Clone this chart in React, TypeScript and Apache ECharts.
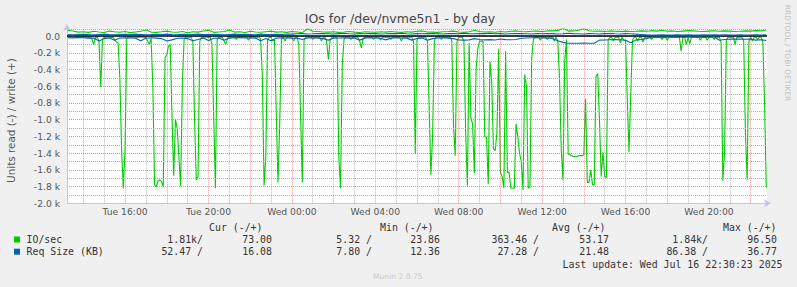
import React, { useEffect, useRef } from 'react';
import * as echarts from 'echarts';

// ---- time base (hours since Tue 00:00) ----
const START_HOUR = 13.25;
const FAST_STEP_H = 1 / 12; // 5 minutes
const SLOW_STEP_H = 0.25; // 15 minutes
const X_MIN = 13.216;
const X_MAX = 46.784;

// IO/sec read (negative), 5-minute samples
const ioReadValues = [
  -14, -15, -13, -14, -16, -12, -13, -15, -14, -12,
  -13, -11, -15, -14, -40, -100, -18, -12, -60, -610,
  -40, -14, -12, -10, -13, -15, -12, -45, -70, -80,
  -500, -1350, -1820, -1360, -30, -12, -10, -14, -11, -13,
  -15, -12, -10, -13, -16, -14, -60, -100, -30, -620,
  -1780, -1800, -1730, -1720, -1740, -1800, -260, -220, -120, -100,
  -950, -1670, -1000, -1100, -1450, -1800, -550, -30, -14, -12,
  -11, -15, -60, -1000, -1720, -1680, -60, -14, -12, -10,
  -13, -15, -12, -100, -950, -1820, -40, -13, -11, -14,
  -60, -100, -20, -12, -10, -13, -15, -40, -12, -11,
  -14, -12, -10, -13, -50, -15, -12, -11, -14, -13,
  -12, -30, -470, -1790, -1450, -40, -14, -12, -60, -40,
  -900, -1750, -1050, -40, -13, -60, -15, -12, -11, -14,
  -60, -13, -12, -100, -950, -1750, -50, -14, -12, -10,
  -13, -40, -15, -12, -11, -14, -60, -13, -12, -60,
  -280, -50, -12, -10, -14, -13, -1450, -1820, -350, -40,
  -12, -11, -14, -40, -13, -12, -10, -15, -60, -140,
  -30, -12, -14, -11, -13, -15, -40, -12, -10, -14,
  -50, -13, -11, -15, -12, -14, -40, -12, -10, -13,
  -15, -12, -60, -14, -11, -13, -12, -10, -14, -60,
  -1410, -50, -13, -12, -15, -11, -14, -60, -860, -1660,
  -1170, -50, -12, -14, -11, -40, -13, -12, -15, -10,
  -13, -50, -1060, -1430, -60, -14, -12, -11, -60, -1150,
  -1790, -80, -980, -1050, -1640, -400, -150, -60, -60, -60,
  -1200, -1210, -1770, -300, -550, -1350, -1370, -1150, -150, -1630,
  -1680, -1820, -180, -1630, -1630, -1820, -1820, -1820, -1050, -1200,
  -1400, -1500, -1840, -460, -600, -1820, -1800, -260, -40, -13,
  -12, -14, -50, -11, -13, -15, -40, -12, -14, -10,
  -60, -13, -60, -500, -1350, -1720, -300, -40, -1410, -1420,
  -1430, -1440, -1440, -1440, -1430, -1430, -1430, -1420, -750, -1750,
  -1750, -1600, -1780, -1780, -480, -450, -1000, -1680, -1390, -1680,
  -1690, -50, -14, -12, -60, -13, -11, -15, -80, -12,
  -50, -50, -750, -1390, -700, -50, -14, -12, -60, -13,
  -11, -70, -15, -12, -14, -10, -40, -13, -12, -11,
  -14, -12, -40, -13, -15, -50, -12, -11, -14, -13,
  -12, -10, -14, -180, -13, -12, -100, -15, -90, -12,
  -11, -14, -13, -12, -50, -15, -12, -11, -50, -14,
  -13, -12, -40, -11, -14, -13, -80, -1730, -1390, -50,
  -12, -14, -11, -13, -100, -15, -12, -10, -14, -60,
  -1170, -1720, -60, -13, -60, -12, -11, -40, -14, -13,
  -60, -800, -1810,
];

// IO/sec write (positive), 15-minute samples
const ioWriteValues = [
  70, 62, 48, 52, 45, 58, 50, 44, 60, 53,
  47, 55, 42, 50, 58, 72, 48, 45, 52, 60,
  50, 46, 55, 40, 52, 48, 62, 70, 45, 50,
  55, 72, 48, 52, 44, 58, 50, 46, 53, 60,
  48, 52, 45, 55, 50, 42, 88, 58, 55, 50,
  48, 52, 45, 50, 56, 48, 44, 52, 50, 47,
  53, 48, 55, 50, 45, 52, 48, 58, 62, 50,
  48, 45, 52, 55, 60, 50, 47, 53, 68, 55,
  50, 52, 46, 55, 50, 58, 62, 55, 52, 58,
  60, 55, 62, 62, 65, 96, 60, 62, 70, 90,
  65, 58, 60, 55, 62, 58, 56, 60, 55, 58,
  62, 58, 65, 60, 70, 58, 62, 55, 60, 65,
  62, 58, 55, 60, 64, 58, 62, 60, 55, 58,
  62, 60, 65, 62, 73,
];

// Req size (KB) read (negative), 15-minute samples
const reqReadValues = [
  -20, -22, -18, -20, -24, -22, -58, -30, -22, -50,
  -24, -20, -22, -26, -55, -25, -20, -24, -30, -58,
  -45, -25, -22, -30, -55, -40, -22, -52, -25, -22,
  -50, -24, -20, -18, -22, -20, -24, -55, -30, -55,
  -24, -20, -22, -26, -24, -40, -22, -20, -24, -30,
  -48, -26, -22, -20, -24, -22, -48, -24, -20, -22,
  -26, -45, -24, -20, -22, -24, -48, -28, -24, -50,
  -30, -22, -20, -24, -30, -46, -48, -45, -30, -40,
  -45, -42, -46, -35, -42, -44, -40, -26, -22, -20,
  -18, -22, -20, -30, -55, -75, -86, -85, -86, -84,
  -86, -85, -48, -46, -44, -42, -44, -50, -80, -45,
  -40, -30, -12, -10, -14, -12, -10, -12, -14, -10,
  -12, -10, -14, -12, -8, -50, -40, -36, -34, -36,
  -38, -36, -48, -44, -52,
];

// Req size (KB) write (positive), 15-minute samples
const reqWriteValues = [
  18, 16, 20, 22, 18, 15, 20, 24, 18, 16,
  20, 22, 18, 24, 20, 16, 18, 22, 20, 24,
  18, 16, 22, 20, 18, 24, 20, 18, 22, 20,
  16, 20, 24, 18, 22, 20, 16, 24, 20, 18,
  22, 20, 26, 24, 28, 30, 26, 28, 32, 30,
  28, 26, 30, 34, 28, 26, 30, 28, 32, 30,
  26, 28, 32, 30, 34, 28, 26, 30, 28, 32,
  30, 28, 26, 30, 32, 28, 36, 30, 28, 32,
  30, 34, 28, 30, 26, 28, 32, 30, 28, 26,
  30, 28, 32, 30, 26, 28, 34, 30, 28, 26,
  30, 28, 26, 30, 32, 28, 26, 30, 28, 24,
  20, 16, 14, 13, 15, 14, 13, 16, 14, 15,
  13, 14, 16, 13, 15, 14, 16, 13, 14, 15,
  14, 13, 15, 14, 16,
];

// ---- axis ticks ----
const xTickHours = [16, 20, 24, 28, 32, 36, 40, 44];
const xTickLabels = ['Tue 16:00', 'Tue 20:00', 'Wed 00:00', 'Wed 04:00', 'Wed 08:00', 'Wed 12:00', 'Wed 16:00', 'Wed 20:00'];
const yTickValues = [0, -200, -400, -600, -800, -1000, -1200, -1400, -1600, -1800, -2000];
const yTickLabels = ['0.0', '-0.2 k', '-0.4 k', '-0.6 k', '-0.8 k', '-1.0 k', '-1.2 k', '-1.4 k', '-1.6 k', '-1.8 k', '-2.0 k'];

// ---- legend ----
const legendNames = ['IO/sec', 'Req Size (KB)'];
const legendColors = ['#00cc00', '#0066b3'];
const legendHeaders = ['Cur (-/+)', 'Min (-/+)', 'Avg (-/+)', 'Max (-/+)'];
const ioStats = ['1.81k/', '73.00', '5.32 /', '23.86', '363.46 /', '53.17', '1.84k/', '96.50'];
const reqStats = ['52.47 /', '16.08', '7.80 /', '12.36', '27.28 /', '21.48', '86.38 /', '36.77'];
const titleText = 'IOs for /dev/nvme5n1 - by day';
const yAxisTitle = 'Units read (-) / write (+)';
const sideText = 'RRDTOOL / TOBI OETIKER';
const lastUpdate = 'Last update: Wed Jul 16 22:30:23 2025';
const muninText = 'Munin 2.0.75';

const HEADER_X = [209, 380, 552, 723];
const STAT_RIGHT_X = [203, 272, 372, 440, 539, 609, 708, 777];
const MONO = '"DejaVu Sans Mono", monospace';
const SANS = '"DejaVu Sans", sans-serif';

function buildOption() {
  const toPairs = (vals: number[], step: number) => vals.map((v, i) => [START_HOUR + i * step, v]);

  const majorV = 'rgba(225, 95, 95, 0.62)';
  const majorH = 'rgba(225, 95, 95, 0.7)';
  const minorV = 'rgba(140, 140, 140, 0.6)';
  const minorH = 'rgb(175, 175, 175)';
  const gridLines: any[] = [];
  for (let h = 14; h <= 46; h++) {
    gridLines.push({
      xAxis: h,
      lineStyle: { color: h % 2 === 0 ? majorV : minorV, type: [1, 1], width: 1 },
    });
  }
  for (let v = -1900; v <= -100; v += 200) {
    gridLines.push({
      yAxis: v,
      lineStyle: { color: minorH, type: [1, 1], width: 1 },
    });
  }

  const lineBase = {
    type: 'line',
    showSymbol: false,
    symbol: 'none',
    silent: true,
    emphasis: { disabled: true },
  };

  const graphics: any[] = [];
  graphics.push({
    type: 'text', x: 400, y: 18,
    style: { text: titleText, fontSize: 12.5, fontFamily: SANS, fill: '#444', textAlign: 'center', textVerticalAlign: 'middle' },
  });
  graphics.push({
    type: 'text', x: 10.5, y: 120.5, rotation: Math.PI / 2,
    style: { text: yAxisTitle, fontSize: 10.4, fontFamily: SANS, fill: '#555', textAlign: 'center', textVerticalAlign: 'middle' },
  });
  graphics.push({
    type: 'text', x: 787.5, y: 53, rotation: -Math.PI / 2,
    style: { text: sideText, fontSize: 7.5, fontFamily: SANS, fill: '#c0c0c0', textAlign: 'center', textVerticalAlign: 'middle' },
  });
  legendHeaders.forEach((h, k) => {
    graphics.push({
      type: 'text', x: HEADER_X[k], y: 227.5,
      style: { text: h, fontSize: 9.9, fontFamily: MONO, fill: '#333', textAlign: 'left', textVerticalAlign: 'middle' },
    });
  });
  const rows = [ioStats, reqStats];
  rows.forEach((stats, r) => {
    const y = 239.5 + r * 12.2;
    graphics.push({
      type: 'rect', shape: { x: 14, y: y - 3, width: 6, height: 6 },
      style: { fill: legendColors[r] },
    });
    graphics.push({
      type: 'text', x: 26.5, y,
      style: { text: legendNames[r], fontSize: 9.9, fontFamily: MONO, fill: '#333', textAlign: 'left', textVerticalAlign: 'middle' },
    });
    stats.forEach((s, k) => {
      graphics.push({
        type: 'text', x: STAT_RIGHT_X[k], y,
        style: { text: s, fontSize: 9.9, fontFamily: MONO, fill: '#333', textAlign: 'right', textVerticalAlign: 'middle' },
      });
    });
  });
  graphics.push({
    type: 'text', x: 782.5, y: 264,
    style: { text: lastUpdate, fontSize: 9.9, fontFamily: MONO, fill: '#333', textAlign: 'right', textVerticalAlign: 'middle' },
  });
  graphics.push({
    type: 'text', x: 373, y: 276,
    style: { text: muninText, fontSize: 7.6, fontFamily: SANS, fill: '#c8c8c8', textAlign: 'left', textVerticalAlign: 'middle' },
  });

  const axisLineColor = '#c2c6e6';

  return {
    animation: false,
    backgroundColor: '#f0f0f0',
    textStyle: { fontFamily: SANS },
    grid: {
      left: 67, top: 29, width: 700, height: 174.3,
      show: true, backgroundColor: '#ffffff', borderWidth: 0, containLabel: false,
    },
    xAxis: {
      type: 'value', min: X_MIN, max: X_MAX,
      splitLine: { show: false },
      axisTick: { show: false },
      axisLine: {
        show: true, onZero: false,
        lineStyle: { color: axisLineColor, width: 1 },
        symbol: ['none', 'arrow'], symbolSize: [6, 7], symbolOffset: [0, 4],
      },
      axisLabel: {
        customValues: xTickHours,
        formatter: (v: number) => {
          const k = xTickHours.indexOf(Math.round(v));
          return k >= 0 ? xTickLabels[k] : '';
        },
        fontSize: 9.2, color: '#555', margin: 4, fontFamily: SANS,
      },
    },
    yAxis: {
      type: 'value', min: -2000, max: 85, interval: 200,
      splitLine: { show: true, lineStyle: { color: majorH, type: [1, 1], width: 1 } },
      axisTick: { show: false },
      axisLine: {
        show: true, onZero: false,
        lineStyle: { color: axisLineColor, width: 1 },
        symbol: ['none', 'arrow'], symbolSize: [6, 7], symbolOffset: [0, 5],
      },
      axisLabel: {
        customValues: yTickValues,
        formatter: (v: number) => {
          const k = yTickValues.indexOf(Math.round(v));
          return k >= 0 ? yTickLabels[k] : '';
        },
        fontSize: 9.2, color: '#555', margin: 7, fontFamily: SANS,
      },
    },
    series: [
      {
        type: 'line', data: [], silent: true, z: 1,
        markLine: {
          silent: true, symbol: ['none', 'none'], label: { show: false },
          emphasis: { disabled: true }, animation: false,
          data: gridLines,
        },
      },
      {
        ...lineBase, name: 'IO read', z: 3,
        data: toPairs(ioReadValues, FAST_STEP_H),
        lineStyle: { color: legendColors[0], width: 1.1 },
      },
      {
        ...lineBase, name: 'IO write', z: 3,
        data: toPairs(ioWriteValues, SLOW_STEP_H),
        lineStyle: { color: legendColors[0], width: 1.1 },
      },
      {
        type: 'line', data: [], silent: true, z: 4,
        markLine: {
          silent: true, symbol: ['none', 'none'], label: { show: false },
          emphasis: { disabled: true }, animation: false,
          data: [{ yAxis: 0, lineStyle: { color: '#000', width: 1.5, type: 'solid' } }],
        },
      },
      {
        ...lineBase, name: 'Req read', z: 5,
        data: toPairs(reqReadValues, SLOW_STEP_H),
        lineStyle: { color: legendColors[1], width: 1.1 },
      },
      {
        ...lineBase, name: 'Req write', z: 5,
        data: toPairs(reqWriteValues, SLOW_STEP_H),
        lineStyle: { color: legendColors[1], width: 1.1 },
      },
    ],
    graphic: graphics,
  };
}

export default function App() {
  const ref = useRef<HTMLDivElement>(null);
  useEffect(() => {
    document.body.style.margin = '0';
    if (!ref.current) return;
    const chart = echarts.init(ref.current, undefined, { renderer: 'svg' });
    chart.setOption(buildOption() as any);
    return () => chart.dispose();
  }, []);
  return <div ref={ref} style={{ width: 797, height: 287 }} />;
}
